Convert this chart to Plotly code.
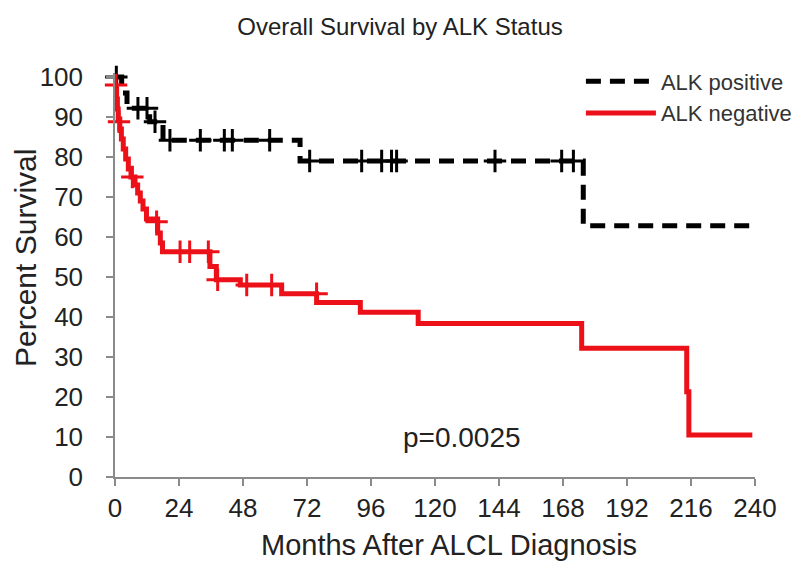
import plotly.graph_objects as go

# ---- data ----
pos_time = [0, 2.5, 4.5, 13, 18, 69.4, 175.6, 239]
pos_surv = [100, 96, 92.2, 88.8, 84.2, 79, 62.8, 62.8]
pos_cens_time = [0.5, 8.6, 12, 15, 20.6, 32, 41, 44, 58, 73, 92.5, 100, 103.7, 105.6, 142.5, 167.5, 171.9]
pos_cens_surv = [100, 92.2, 92.2, 88.8, 84.2, 84.2, 84.2, 84.2, 84.2, 79, 79, 79, 79, 79, 79, 79, 79]

neg_time = [0, 0.3, 0.6, 0.9, 1.2, 1.8, 2.4, 3.1, 4, 5, 6, 7.5, 8.5, 9.5, 10.5, 11.8, 16, 17, 17.8,
            35.6, 38, 47, 62.5, 75.6, 92, 113.7, 175, 214.4, 215.2, 239]
neg_surv = [100, 97, 94.5, 92, 89.5, 87, 84.5, 82, 79.5, 77, 75, 73, 71, 69, 67, 64.5, 61, 58.5, 56.3,
            52.6, 49.3, 48, 45.8, 43.6, 41.2, 38.4, 32.2, 21.3, 10.5, 10.5]
neg_cens_time = [0.4, 1.5, 6.5, 15.6, 24.4, 28, 35, 38.5, 49.4, 58.75, 75.6]
neg_cens_surv = [98, 88.8, 75, 63.8, 56.3, 56.3, 56.3, 49.3, 48, 48, 45.8]

x_ticks = [0, 24, 48, 72, 96, 120, 144, 168, 192, 216, 240]
y_ticks = [0, 10, 20, 30, 40, 50, 60, 70, 80, 90, 100]

FONT = "Liberation Sans, Arial, sans-serif"
TXT = "#222222"
AX = "#8a8a8a"

fig = go.Figure()
fig.add_trace(go.Scatter(x=pos_time, y=pos_surv, mode="lines", line_shape="hv",
                         name="ALK positive",
                         line=dict(color="black", width=5, dash="15px,9px")))
fig.add_trace(go.Scatter(x=neg_time, y=neg_surv, mode="lines", line_shape="hv",
                         name="ALK negative",
                         line=dict(color="#ec1118", width=5)))
fig.add_trace(go.Scatter(x=pos_cens_time, y=pos_cens_surv, mode="markers", showlegend=False,
                         marker=dict(symbol="cross-thin", size=16, line=dict(color="black", width=3)),
                         cliponaxis=False, hoverinfo="skip"))
fig.add_trace(go.Scatter(x=neg_cens_time, y=neg_cens_surv, mode="markers", showlegend=False,
                         marker=dict(symbol="cross-thin", size=16, line=dict(color="#ec1118", width=3)),
                         cliponaxis=False, hoverinfo="skip"))

fig.add_annotation(x=130, y=10, xref="x", yref="y", text="p=0.0025", showarrow=False,
                   font=dict(family=FONT, size=28, color=TXT), xanchor="center", yanchor="middle")

# axis titles placed as annotations (paper coords relative to the plot area)
fig.add_annotation(x=(449 - 115) / 640, y=(477 - 545) / 404, xref="paper", yref="paper",
                   text="Months After ALCL Diagnosis", showarrow=False,
                   xanchor="center", yanchor="middle",
                   font=dict(family=FONT, size=29, color=TXT))
fig.add_annotation(x=(26 - 115) / 640, y=(477 - 258) / 404, xref="paper", yref="paper",
                   text="Percent Survival", showarrow=False, textangle=-90,
                   xanchor="center", yanchor="middle",
                   font=dict(family=FONT, size=30, color=TXT))

# the page adds an 8px body margin, so margins are offset by 8px
fig.update_layout(
    width=799, height=563,
    margin=dict(l=107, r=52, t=65, b=94, autoexpand=False),
    paper_bgcolor="white", plot_bgcolor="white",
    font=dict(family=FONT, color=TXT),
    title=dict(text="Overall Survival by ALK Status", x=(400 - 8) / 799, xanchor="center",
               y=1 - 19 / 563, yanchor="middle", yref="container",
               font=dict(family=FONT, size=24, color=TXT)),
    showlegend=True,
    legend=dict(x=0.728, y=1.031, xanchor="left", yanchor="top", bgcolor="rgba(0,0,0,0)",
                font=dict(family=FONT, size=22, color="#333333"), itemwidth=70,
                tracegroupgap=0),
    xaxis=dict(range=[0, 240], tickmode="array", tickvals=x_ticks,
               ticktext=[str(v) for v in x_ticks],
               showgrid=False, zeroline=False, showline=True, linecolor=AX, linewidth=1.5,
               ticks="outside", ticklen=7, tickcolor=AX, tickwidth=1.5,
               tickfont=dict(family=FONT, size=26, color=TXT)),
    yaxis=dict(range=[0, 101], tickmode="array", tickvals=y_ticks,
               showgrid=False, zeroline=False, showline=True, linecolor=AX, linewidth=1.5,
               ticks="outside", ticklen=7, tickcolor=AX, tickwidth=1.5, ticklabelstandoff=18,
               tickfont=dict(family=FONT, size=26, color=TXT)),
)

fig.write_html("out.html")
